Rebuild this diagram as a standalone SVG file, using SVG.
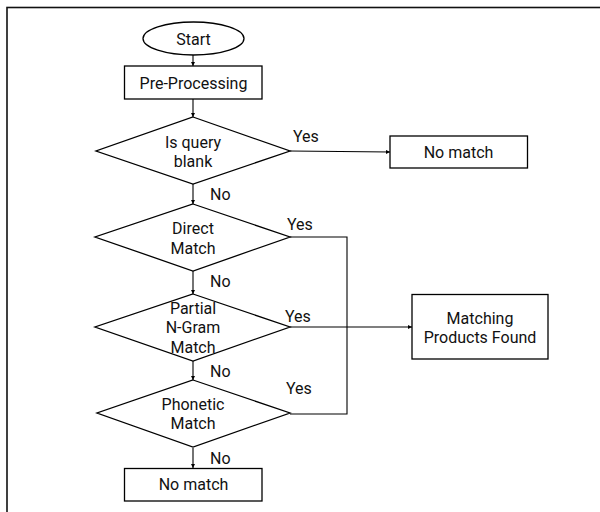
<svg xmlns="http://www.w3.org/2000/svg" width="600" height="512" viewBox="0 0 600 512">
<defs>
<marker id="arr" markerWidth="4" markerHeight="4" refX="4" refY="2" orient="auto" markerUnits="userSpaceOnUse">
<path d="M0,0 L4,2 L0,4 Z" fill="#000"/>
</marker>
<style>
.shape{fill:#fff;stroke:#000;stroke-width:1.3}
.t{font-family:Roboto,"Liberation Sans",sans-serif;font-size:16px;fill:#111;text-anchor:middle}
.l{font-family:Roboto,"Liberation Sans",sans-serif;font-size:16px;fill:#111}
.c{fill:none;stroke:#000;stroke-width:1.1}
</style>
</defs>
<rect x="0" y="0" width="600" height="512" fill="#fff"/>
<rect x="7" y="7.5" width="620" height="540" fill="none" stroke="#111" stroke-width="1.6"/>
<g id="connectors">
<path class="c" d="M193,55 V66" marker-end="url(#arr)"/>
<path class="c" d="M193,99 V117" marker-end="url(#arr)"/>
<path class="c" d="M290,151 L390,152" marker-end="url(#arr)"/>
<path class="c" d="M193,184 V204" marker-end="url(#arr)"/>
<path class="c" d="M193,271 V294" marker-end="url(#arr)"/>
<path class="c" d="M193,361 V380" marker-end="url(#arr)"/>
<path class="c" d="M193,448 V468" marker-end="url(#arr)"/>
<path class="c" d="M290,237 H347 V414 H290"/>
<path class="c" d="M290,327 H412" marker-end="url(#arr)"/>
<text class="l" x="293" y="142">Yes</text>
<text class="l" x="210" y="200">No</text>
<text class="l" x="287" y="230">Yes</text>
<text class="l" x="210" y="287">No</text>
<text class="l" x="285" y="322">Yes</text>
<text class="l" x="210" y="377">No</text>
<text class="l" x="286" y="394">Yes</text>
<text class="l" x="210" y="464">No</text>
</g>
<g id="start">
<ellipse class="shape" cx="193.5" cy="38.5" rx="50.5" ry="16.5"/>
<text class="t" x="193.5" y="44.5">Start</text>
</g>
<g id="preprocessing">
<rect class="shape" x="124.5" y="66" width="137.5" height="33"/>
<text class="t" x="193.5" y="88.5">Pre-Processing</text>
</g>
<g id="query-blank">
<polygon class="shape" points="193,117 290,151 193,184 96,151"/>
<text class="t" x="193" y="147.5">Is query</text>
<text class="t" x="193" y="167">blank</text>
</g>
<g id="no-match-1">
<rect class="shape" x="390" y="136" width="137.5" height="32"/>
<text class="t" x="458.5" y="157.5">No match</text>
</g>
<g id="direct-match">
<polygon class="shape" points="193,204 290,237 193,271 95,237"/>
<text class="t" x="193" y="233.5">Direct</text>
<text class="t" x="193" y="253.5">Match</text>
</g>
<g id="partial-ngram">
<polygon class="shape" points="193,294 290,327 193,361 95,327"/>
<text class="t" x="193" y="313.5">Partial</text>
<text class="t" x="193" y="333">N-Gram</text>
<text class="t" x="193" y="352.5">Match</text>
</g>
<g id="matching-products">
<rect class="shape" x="412" y="294.5" width="136" height="64.5"/>
<text class="t" x="480" y="323.5">Matching</text>
<text class="t" x="480" y="343">Products Found</text>
</g>
<g id="phonetic-match">
<polygon class="shape" points="193,380 290,413 193,447 97,413"/>
<text class="t" x="193" y="409.5">Phonetic</text>
<text class="t" x="193" y="429">Match</text>
</g>
<g id="no-match-2">
<rect class="shape" x="124.5" y="468.5" width="137.5" height="32.5"/>
<text class="t" x="193.5" y="490">No match</text>
</g>
</svg>
